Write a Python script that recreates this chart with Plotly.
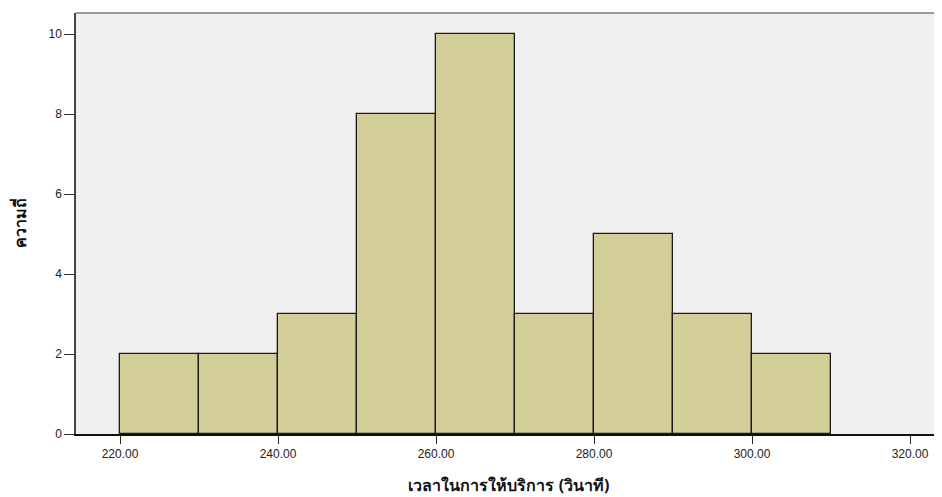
import plotly.graph_objects as go

# histogram bins (seconds) and counts
bin_starts = [220, 230, 240, 250, 260, 270, 280, 290, 300]
bin_width = 10
counts = [2, 2, 3, 8, 10, 3, 5, 3, 2]
x_ticks = [220, 240, 260, 280, 300, 320]
y_ticks = [0, 2, 4, 6, 8, 10]

centers = [s + bin_width / 2 for s in bin_starts]

fig = go.Figure(go.Bar(
    x=centers, y=counts, width=bin_width,
    marker=dict(color='#D3CE98', line=dict(color='#1a1a1a', width=1.3)),
    hoverinfo='x+y'
))

# grey frame line along the top of the plot area
fig.add_shape(type='line', xref='paper', yref='paper', x0=0, x1=1, y0=1, y1=1,
              line=dict(color='#9a9a9a', width=2))

# page body has an 8px margin, so the figure is sized to fit the window
fig.update_layout(
    width=934, height=489,
    margin=dict(l=68, r=0, t=5, b=63),
    paper_bgcolor='white', plot_bgcolor='#F0F0F0',
    showlegend=False,
    font=dict(family='Liberation Sans, Arial, sans-serif', size=12, color='#222'),
    xaxis=dict(
        range=[214.43, 324.05],
        tickvals=x_ticks, ticktext=[f"{v:.2f}" for v in x_ticks],
        ticks='outside', ticklen=8, tickcolor='#222', tickwidth=1,
        showline=True, linecolor='#111', linewidth=1.5,
        showgrid=False, zeroline=False,
        title=dict(text='<b>เวลาในการให้บริการ (วินาที)</b>',
                   font=dict(size=16, color='#111', family='Noto Sans, Liberation Sans, sans-serif'),
                   standoff=20),
        tickfont=dict(size=12)
    ),
    yaxis=dict(
        range=[0, 10.525],
        tickvals=y_ticks,
        ticks='outside', ticklen=10, tickcolor='#333', tickwidth=1,
        showline=True, linecolor='#444', linewidth=1.5,
        showgrid=False, zeroline=False,
        title=dict(text='<b>ความถี่</b>',
                   font=dict(size=16, color='#111', family='Noto Sans, Liberation Sans, sans-serif'),
                   standoff=18),
        tickfont=dict(size=12)
    ),
    bargap=0
)

fig.write_html("out.html")
